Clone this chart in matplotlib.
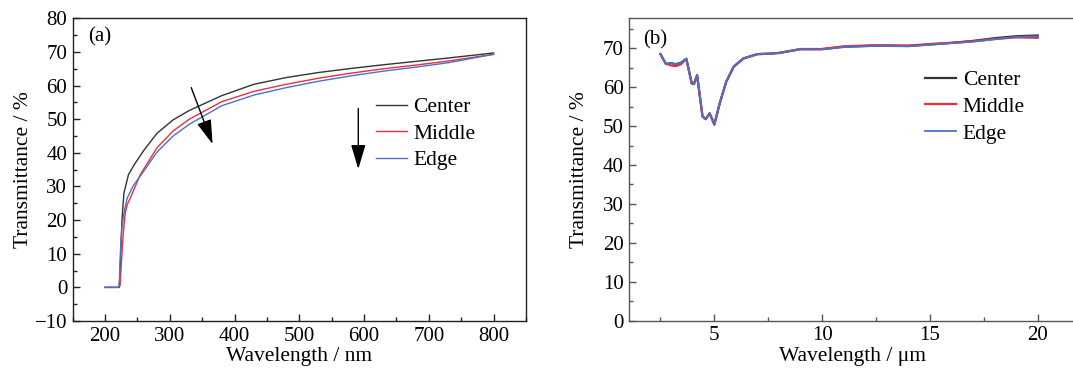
import matplotlib
matplotlib.use("Agg")
import matplotlib.pyplot as plt
from matplotlib.ticker import MultipleLocator

plt.rcParams['font.family'] = ['Liberation Serif', 'DejaVu Serif']
plt.rcParams['mathtext.fontset'] = 'stix'

# -----------------------------
# (a) UV-Vis transmittance
# -----------------------------

uv_center_x = [200, 220, 222, 226, 229, 236, 245, 260, 280, 305, 330, 380,
               430, 480, 530, 580, 630, 680, 730, 800]
uv_center_y = [0, 0, 0, 20, 28, 33.5, 36.5, 40.8, 45.8, 49.8, 52.6, 57.0,
               60.4, 62.4, 63.9, 65.1, 66.2, 67.2, 68.2, 69.7]

uv_middle_x = [200, 221, 223, 226, 228, 231, 234, 241, 254, 280, 305, 330,
               380, 430, 480, 530, 580, 630, 680, 730, 800]
uv_middle_y = [0, 0, 0.5, 10, 16, 22, 24.5, 27.5, 33.4, 41.5, 46.5, 50.0,
               55.2, 58.3, 60.4, 62.2, 63.7, 65.0, 66.1, 67.3, 69.3]

uv_edge_x = [200, 221, 222, 224, 226, 230, 234, 244, 254, 280, 305, 330,
             380, 430, 480, 530, 580, 630, 680, 730, 800]
uv_edge_y = [0, 0, 2, 12, 18, 23, 26.5, 30.4, 33.0, 40.2, 45.0, 48.5,
             54.0, 57.2, 59.4, 61.3, 62.9, 64.3, 65.5, 66.8, 69.3]

# -----------------------------
# (b) IR transmittance
# -----------------------------

ir_x = [2.5, 2.75, 3.0, 3.2, 3.45, 3.7, 3.95, 4.05, 4.2, 4.45, 4.6, 4.78,
        5.0, 5.25, 5.55, 5.9, 6.35, 7.0, 7.5, 8.0, 9.0, 10.0, 11.0, 12.5,
        14.0, 15.0, 16.0, 17.0, 18.0, 19.0, 20.0]
ir_center = [68.5, 66.0, 66.2, 65.9, 66.3, 67.3, 61.0, 60.8, 63.1, 52.5,
             51.8, 53.3, 50.4, 55.9, 61.4, 65.3, 67.4, 68.5, 68.6, 68.8,
             69.8, 69.8, 70.4, 70.7, 70.6, 71.0, 71.4, 71.9, 72.6, 73.1, 73.3]
ir_middle = [68.5, 66.0, 65.6, 65.4, 65.9, 67.3, 61.0, 60.8, 63.1, 52.5,
             51.8, 53.3, 50.4, 55.9, 61.4, 65.3, 67.4, 68.5, 68.6, 68.8,
             69.8, 69.8, 70.5, 70.8, 70.7, 71.1, 71.4, 71.8, 72.4, 72.8, 72.7]
ir_edge = [68.5, 66.0, 66.2, 65.9, 66.3, 67.3, 61.0, 60.8, 63.1, 52.5,
           51.8, 53.3, 50.4, 55.9, 61.4, 65.3, 67.4, 68.5, 68.6, 68.8,
           69.7, 69.7, 70.3, 70.6, 70.5, 70.9, 71.3, 71.7, 72.3, 72.9, 73.1]

labels = ["Center", "Middle", "Edge"]
colors = ["#333333", "#e8303c", "#4a72c8"]

fig = plt.figure(figsize=(10.73, 3.74), dpi=100)

ax1 = fig.add_axes([0.0678, 0.1417, 0.4224, 0.8093])
ax2 = fig.add_axes([0.5862, 0.1425, 0.4157, 0.8085])

FS = 15

# ---- panel (a) ----
ax1.plot(uv_center_x, uv_center_y, color=colors[0], lw=1.0, label=labels[0])
ax1.plot(uv_middle_x, uv_middle_y, color=colors[1], lw=1.0, label=labels[1])
ax1.plot(uv_edge_x, uv_edge_y, color=colors[2], lw=1.0, label=labels[2])

ax1.set_xlim(150, 850)
ax1.set_ylim(-10, 80)
ax1.xaxis.set_major_locator(MultipleLocator(100))
ax1.xaxis.set_minor_locator(MultipleLocator(50))
ax1.yaxis.set_major_locator(MultipleLocator(10))
ax1.yaxis.set_minor_locator(MultipleLocator(5))
ax1.set_xticks(range(200, 801, 100))
ax1.set_xlabel("Wavelength / nm", fontsize=FS + 0.5, labelpad=1)
ax1.set_ylabel("Transmittance / %", fontsize=FS + 0.5, labelpad=1)
ax1.text(0.033, 0.94, "(a)", transform=ax1.transAxes, fontsize=FS,
         ha="left", va="center")

arrow_style = dict(arrowstyle="-|>,head_length=1.0,head_width=0.3",
                   color="k", lw=1.0, mutation_scale=15,
                   shrinkA=0, shrinkB=0)
ax1.annotate("", xy=(366, 42.6), xytext=(333, 59.4), arrowprops=arrow_style)
ax1.annotate("", xy=(591, 35.2), xytext=(591, 53.2), arrowprops=arrow_style)

ax1.legend(loc="upper left", bbox_to_anchor=(375.7 / 1073, 1 - 97 / 374),
           bbox_transform=fig.transFigure, frameon=False, fontsize=FS + 0.5,
           handlelength=1.45, handletextpad=0.3, labelspacing=0.3,
           borderpad=0, borderaxespad=0)

# ---- panel (b) ----
ax2.plot(ir_x, ir_center, color=colors[0], lw=1.6, label=labels[0])
ax2.plot(ir_x, ir_middle, color=colors[1], lw=1.6, label=labels[1])
ax2.plot(ir_x, ir_edge, color=colors[2], lw=1.3, label=labels[2])

ax2.set_xlim(1.04, 21.73)
ax2.set_ylim(0, 77.7)
ax2.xaxis.set_major_locator(MultipleLocator(5))
ax2.xaxis.set_minor_locator(MultipleLocator(2.5))
ax2.yaxis.set_major_locator(MultipleLocator(10))
ax2.yaxis.set_minor_locator(MultipleLocator(5))
ax2.set_xticks([5, 10, 15, 20])
ax2.set_yticks(range(0, 71, 10))
ax2.set_xlabel("Wavelength / μm", fontsize=FS + 0.5, labelpad=1)
ax2.set_ylabel("Transmittance / %", fontsize=FS + 0.5, labelpad=10)
ax2.text(0.032, 0.93, "(b)", transform=ax2.transAxes, fontsize=FS,
         ha="left", va="center")

ax2.legend(loc="upper left", bbox_to_anchor=(925 / 1073, 1 - 70 / 374),
           bbox_transform=fig.transFigure, frameon=False, fontsize=FS + 0.5,
           handlelength=1.45, handletextpad=0.3, labelspacing=0.32,
           borderpad=0, borderaxespad=0)

for ax, sc in ((ax1, "#222222"), (ax2, "#555555")):
    for s in ax.spines.values():
        s.set_color(sc)
        s.set_linewidth(1.0)
    ax.tick_params(which="both", direction="in", top=False, right=False,
                   labelsize=FS, color=sc, pad=4)
    ax.tick_params(which="major", length=5, width=1.0)
    ax.tick_params(which="minor", length=3, width=1.0)

fig.savefig("out.png", dpi=100)
